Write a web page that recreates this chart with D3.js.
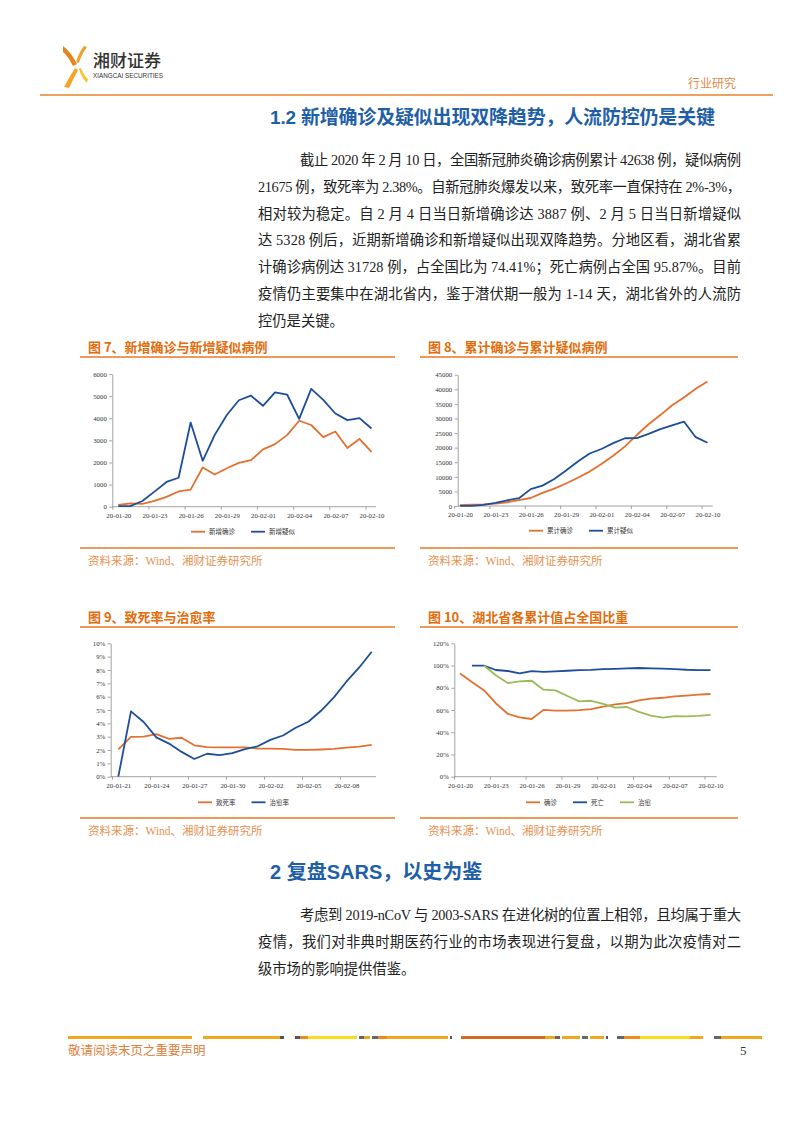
<!DOCTYPE html>
<html><head><meta charset="utf-8">
<script src="https://cdn.jsdelivr.net/npm/d3@7"></script>
<style>body{margin:0;background:#fff} svg{display:block}</style>
</head><body><svg id="page" width="802" height="1133"></svg>
<script>
// ---------- DATA ----------
const dates22 = ["20-01-20","20-01-21","20-01-22","20-01-23","20-01-24","20-01-25","20-01-26","20-01-27","20-01-28","20-01-29","20-01-30","20-01-31","20-02-01","20-02-02","20-02-03","20-02-04","20-02-05","20-02-06","20-02-07","20-02-08","20-02-09","20-02-10"];
const dates21 = dates22.slice(1);
const newConfirmed = [77,149,131,259,444,688,769,1771,1459,1737,1982,2102,2590,2829,3235,3887,3694,3143,3399,2656,3062,2478];
const newSuspected = [27,26,257,680,1118,1309,3806,2077,3248,4148,4812,5019,4562,5173,5072,3971,5328,4833,4214,3916,4008,3536];
const cumConfirmed = [291,440,571,830,1287,1975,2744,4515,5974,7711,9692,11791,14380,17205,20438,24324,28018,31161,34546,37198,40171,42638];
const cumSuspected = [54,37,393,1072,1965,2684,5794,6973,9239,12167,15238,17988,19544,21558,23214,23260,24702,26359,27657,28942,23589,21675];
const deathRate = [2.05,2.98,3.01,3.19,2.84,2.92,2.35,2.21,2.20,2.20,2.20,2.11,2.10,2.08,2.01,2.01,2.04,2.09,2.18,2.26,2.38];
const cureRate = [0,4.90,4.10,2.95,2.48,1.86,1.33,1.72,1.61,1.76,2.06,2.28,2.76,3.09,3.67,4.12,4.94,5.93,7.12,8.17,9.37];
const hbConfirmed = [92.8,85.2,77.8,66.1,56.6,53.3,51.9,60.1,59.5,59.5,59.9,60.7,63.1,65.0,66.2,68.6,70.2,71.0,72.2,72.9,73.8,74.4];
const hbDeath = [null,100,100,96.0,95.1,92.9,95.0,94.3,94.7,95.3,95.8,96.1,96.7,97.0,97.4,97.8,97.5,97.2,96.8,96.2,95.9,95.9];
const hbCured = [null,null,100,91.2,84.2,85.7,86.3,78.3,77.7,72.6,67.8,68.3,65.5,62.1,62.7,58.3,54.9,53.1,54.4,54.3,54.7,55.6];
const ticks1 = [0,1000,2000,3000,4000,5000,6000];
const ticks2 = [0,5000,10000,15000,20000,25000,30000,35000,40000,45000];
const ticks3 = [0,1,2,3,4,5,6,7,8,9,10];
const ticks4 = [0,20,40,60,80,100,120];

const para1 = [
 "截止 2020 年 2 月 10 日，全国新冠肺炎确诊病例累计 42638 例，疑似病例",
 "21675 例，致死率为 2.38%。自新冠肺炎爆发以来，致死率一直保持在 2%-3%，",
 "相对较为稳定。自 2 月 4 日当日新增确诊达 3887 例、2 月 5 日当日新增疑似",
 "达 5328 例后，近期新增确诊和新增疑似出现双降趋势。分地区看，湖北省累",
 "计确诊病例达 31728 例，占全国比为 74.41%；死亡病例占全国 95.87%。目前",
 "疫情仍主要集中在湖北省内，鉴于潜伏期一般为 1-14 天，湖北省外的人流防",
 "控仍是关键。"];
const para2 = [
 "考虑到 2019-nCoV  与 2003-SARS 在进化树的位置上相邻，且均属于重大",
 "疫情，我们对非典时期医药行业的市场表现进行复盘，以期为此次疫情对二",
 "级市场的影响提供借鉴。"];

const ORANGE = "#E4702F", BLUE = "#1D4E9B", GREEN = "#9BBB59";
const CJK = "'Liberation Serif','Noto Sans CJK SC',serif";
const svg = d3.select("#page");

// ---------- HEADER ----------
const logo = svg.append("g");
logo.append("path").attr("d","M63,46 Q71,52 77,64 L73,66 Q68,56 63,52 Z").attr("fill","#E8841C");
logo.append("path").attr("d","M87,47 Q81,55 79,63 L76,62 Q79,52 84,46 Z").attr("fill","#F0A030");
logo.append("path").attr("d","M64,87 Q70,76 75,68 L78,70 Q73,80 69,88 Z").attr("fill","#F2A52A");
logo.append("path").attr("d","M87,83 Q81,77 79,69 L81,68 Q84,76 88,79 Z").attr("fill","#F7C33A");
svg.append("text").attr("x",93).attr("y",67).text("湘财证券")
  .attr("font-family","'Noto Sans CJK SC'").attr("font-size",17).attr("font-weight",500).attr("fill","#333");
svg.append("text").attr("x",93).attr("y",77.5).text("XIANGCAI SECURITIES")
  .attr("font-family","'Liberation Sans'").attr("font-size",7).attr("fill","#333")
  .attr("textLength",70).attr("lengthAdjust","spacingAndGlyphs");
svg.append("line").attr("x1",40).attr("x2",773).attr("y1",95).attr("y2",95).attr("stroke","#E8832A").attr("stroke-width",1.6);
svg.append("text").attr("x",688).attr("y",88).text("行业研究")
  .attr("font-family","'Noto Sans CJK SC'").attr("font-size",12).attr("fill","#E08A45");

// ---------- HEADINGS & PARAGRAPHS ----------
svg.append("text").attr("x",270).attr("y",124).text("1.2 新增确诊及疑似出现双降趋势，人流防控仍是关键")
  .attr("font-family","'Liberation Sans','Noto Sans CJK SC'").attr("font-weight","bold").attr("font-size",19)
  .attr("fill","#1F5FA8").attr("textLength",445).attr("lengthAdjust","spacing");

function paragraph(lines, y0, dy) {
  lines.forEach((t,i) => {
    const x = i === 0 ? 300 : 258;
    const el = svg.append("text").attr("x",x).attr("y",y0 + i*dy).text(t)
      .attr("font-family",CJK).attr("font-size",14.3).attr("fill","#222");
    if (i < lines.length - 1) el.attr("textLength",741 - x).attr("lengthAdjust","spacing");
  });
}
paragraph(para1, 165, 26.8);
svg.append("text").attr("x",270).attr("y",879).text("2 复盘SARS，以史为鉴")
  .attr("font-family","'Liberation Sans','Noto Sans CJK SC'").attr("font-weight","bold").attr("font-size",20).attr("fill","#1F5FA8");
paragraph(para2, 920, 27);

// ---------- CHART FRAMES ----------
function frame(x0, x1, title, titleY, bottomY) {
  svg.append("text").attr("x",x0+8).attr("y",titleY).text(title)
    .attr("font-family","'Noto Sans CJK SC'").attr("font-weight","bold").attr("font-size",13).attr("fill","#E46C0A");
  svg.append("line").attr("x1",x0).attr("x2",x1).attr("y1",titleY+5).attr("y2",titleY+5).attr("stroke","#EE9A5A").attr("stroke-width",2);
  svg.append("line").attr("x1",x0).attr("x2",x1).attr("y1",bottomY).attr("y2",bottomY).attr("stroke","#EE9A5A").attr("stroke-width",2);
  svg.append("text").attr("x",x0+8).attr("y",bottomY+17).text("资料来源：Wind、湘财证券研究所")
    .attr("font-family",CJK).attr("font-size",11.5).attr("fill","#E8914F");
}
frame(80,395,"图 7、新增确诊与新增疑似病例",352,548);
frame(420,738,"图 8、累计确诊与累计疑似病例",352,548);
frame(80,395,"图 9、致死率与治愈率",622,818);
frame(420,738,"图 10、湖北省各累计值占全国比重",622,818);

// ---------- LINE CHART ----------
function lineChart(c) {
  const g = svg.append("g");
  const x = d3.scalePoint().domain(c.dates).range(c.xRange);
  const y = d3.scaleLinear().domain([c.yTicks[0], c.yTicks[c.yTicks.length-1]]).range(c.yRange);
  const step = x.step();
  const fs = 6.8;
  const ya = d3.axisLeft(y).tickValues(c.yTicks).tickSize(3).tickSizeOuter(0).tickPadding(2.5).tickFormat(c.yFmt);
  const yg = g.append("g").attr("transform",`translate(${c.axisX[0]},0)`).call(ya);
  const xa = d3.axisBottom(x).tickValues(c.dates.filter((d,i)=>i%3===0)).tickSize(3).tickSizeOuter(0).tickPadding(3);
  const xg = g.append("g").attr("transform",`translate(0,${c.yRange[0]})`).call(xa);
  xg.select(".domain").attr("d",`M${c.axisX[0]},0H${c.axisX[1]}`);
  xg.selectAll(".tick line").attr("x1",-step/2).attr("x2",-step/2);
  [yg,xg].forEach(a => {
    a.selectAll("path,line").attr("stroke","#8C8C8C").attr("stroke-width",0.8);
    a.selectAll("text").attr("font-family","'Liberation Serif'").attr("font-size",fs).attr("fill","#333");
  });
  c.series.forEach(s => {
    const line = d3.line().defined(d => d != null).x((d,i)=>x(c.dates[i])).y(d=>y(d));
    g.append("path").attr("d",line(s.values)).attr("fill","none").attr("stroke",s.color)
      .attr("stroke-width",1.8).attr("stroke-linejoin","round");
  });
  // legend
  let lx = c.legendX;
  c.series.forEach(s => {
    g.append("line").attr("x1",lx).attr("x2",lx+14).attr("y1",c.legendY).attr("y2",c.legendY)
      .attr("stroke",s.color).attr("stroke-width",1.8);
    const t = g.append("text").attr("x",lx+18).attr("y",c.legendY+2.3).text(s.name)
      .attr("font-family",CJK).attr("font-size",6.5).attr("fill","#333");
    lx += 18 + t.node().getComputedTextLength() + 16;
  });
}

lineChart({dates:dates22, xRange:[118.3,371.5], axisX:[112.3,376], yRange:[506.7,374], yTicks:ticks1,
  yFmt:d=>d, legendX:191, legendY:531.7,
  series:[{name:"新增确诊",values:newConfirmed,color:ORANGE},{name:"新增疑似",values:newSuspected,color:BLUE}]});
lineChart({dates:dates22, xRange:[460,707.5], axisX:[457.7,712.7], yRange:[506,374.7], yTicks:ticks2,
  yFmt:d=>d, legendX:529, legendY:530.7,
  series:[{name:"累计确诊",values:cumConfirmed,color:ORANGE},{name:"累计疑似",values:cumSuspected,color:BLUE}]});
lineChart({dates:dates21, xRange:[118.3,371.7], axisX:[110.7,376], yRange:[776.7,643.3], yTicks:ticks3,
  yFmt:d=>d+"%", legendX:198, legendY:802.3,
  series:[{name:"致死率",values:deathRate,color:ORANGE},{name:"治愈率",values:cureRate,color:BLUE}]});
lineChart({dates:dates22, xRange:[460,710.5], axisX:[454.3,716.7], yRange:[776.7,643.3], yTicks:ticks4,
  yFmt:d=>d+"%", legendX:526, legendY:802.3,
  series:[{name:"确诊",values:hbConfirmed,color:ORANGE},{name:"死亡",values:hbDeath,color:BLUE},{name:"治愈",values:hbCured,color:GREEN}]});

// ---------- FOOTER ----------
const stripes = [[68,192,"#F0A81E"],[203,280,"#F0A81E"],[280,284,"#555"],[295,300,"#555"],[300,308,"#F08A1E"],[308,357,"#F6DE1C"],[359,364,"#666"],[364,370,"#F0A81E"],[372,378,"#666"],[378,387,"#F08A1E"],[387,448,"#F0A81E"],[450,452,"#555"],[461,545,"#D46A1C"],[545,555,"#F0A81E"],[555,560,"#666"],[562,580,"#F0A81E"],[582,588,"#666"],[590,604,"#F0A81E"],[606,608,"#555"],[617,624,"#666"],[624,640,"#F08A1E"],[640,690,"#F6DE1C"],[690,703,"#F0A81E"],[714,721,"#666"],[721,762,"#F0A81E"]];
svg.append("g").selectAll("rect").data(stripes).join("rect")
  .attr("x",d=>d[0]).attr("width",d=>d[1]-d[0]).attr("y",1036).attr("height",3).attr("fill",d=>d[2]);
svg.append("text").attr("x",68).attr("y",1055).text("敬请阅读末页之重要声明")
  .attr("font-family",CJK).attr("font-size",12.5).attr("fill","#E0803A");
svg.append("text").attr("x",740).attr("y",1055).text("5")
  .attr("font-family","'Liberation Serif'").attr("font-size",13).attr("fill","#333");
</script></body></html>
